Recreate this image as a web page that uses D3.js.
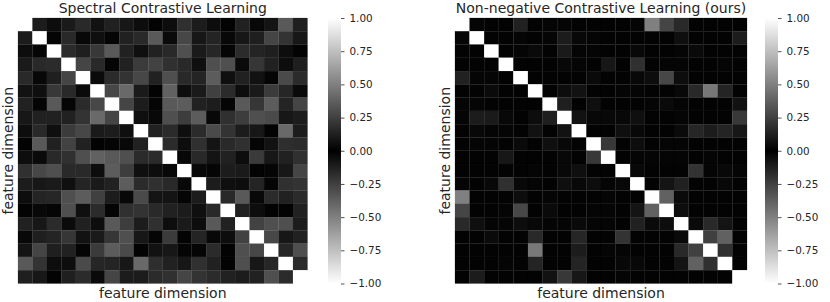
<!DOCTYPE html>
<html>
<head>
<meta charset="UTF-8">
<script src="https://d3js.org/d3.v7.min.js"></script>
<style>
  body { margin: 0; padding: 0; background: #fff; }
  svg { display: block; font-family: "DejaVu Sans", sans-serif; }
</style>
</head>
<body>
<svg id="chart" width="830" height="302"></svg>
<script>
// feature-correlation matrices (20 x 20)
const dims = d3.range(20);

const spectral = [
  [1,.11,.05,.10,.16,.07,.13,.09,.05,.01,.05,.19,.11,.05,.01,.13,.03,.08,.35,.12],
  [.11,1,.02,.16,.03,.06,.02,.13,.16,.35,.04,.28,.09,.14,.03,.09,.12,.27,.20,.09],
  [.05,.02,1,.17,.12,.22,.35,.13,.06,.13,.16,.31,.10,.15,.02,.17,.14,.12,.05,.01],
  [.10,.16,.17,1,.27,.16,.02,.13,.23,.26,.19,.16,.06,.31,.31,.04,.21,.13,.05,.12],
  [.16,.03,.12,.27,1,.04,.17,.20,.28,.13,.31,.16,.14,.36,.06,.13,.07,.02,.29,.17],
  [.07,.06,.22,.16,.04,1,.28,.41,.10,.01,.38,.05,.10,.25,.17,.05,.10,.23,.15,.04],
  [.13,.02,.35,.02,.17,.28,1,.27,.11,.02,.35,.36,.13,.11,.02,.35,.21,.36,.14,.27],
  [.09,.13,.13,.13,.20,.41,.27,1,.06,.03,.31,.24,.36,.03,.19,.24,.31,.29,.09,.11],
  [.05,.16,.06,.23,.28,.10,.11,.06,1,.13,.17,.06,.17,.29,.20,.11,.09,.01,.41,.11],
  [.01,.35,.13,.26,.13,.01,.02,.03,.13,1,.17,.05,.19,.08,.16,.19,.02,.07,.18,.17],
  [.05,.04,.16,.19,.31,.38,.35,.31,.17,.17,1,.03,.16,.08,.13,.05,.23,.09,.13,.19],
  [.19,.28,.31,.16,.16,.05,.36,.24,.06,.05,.03,1,.03,.02,.11,.10,.01,.02,.09,.27],
  [.11,.09,.10,.06,.14,.10,.13,.36,.17,.19,.16,.03,1,.11,.06,.05,.14,.02,.19,.20],
  [.05,.14,.15,.31,.36,.25,.11,.03,.29,.08,.08,.02,.11,1,.16,.35,.03,.17,.13,.17],
  [.01,.03,.02,.31,.06,.17,.02,.19,.20,.16,.13,.11,.06,.16,1,.13,.05,.01,.01,.13],
  [.13,.09,.17,.04,.13,.05,.35,.24,.11,.19,.05,.10,.05,.35,.13,1,.26,.31,.31,.11],
  [.03,.12,.14,.21,.07,.10,.21,.31,.09,.02,.23,.01,.14,.03,.05,.26,1,.28,.09,.13],
  [.08,.27,.12,.13,.02,.23,.36,.29,.01,.07,.09,.02,.02,.17,.01,.31,.28,1,.15,.31],
  [.35,.20,.05,.05,.29,.15,.14,.09,.41,.18,.13,.09,.19,.13,.01,.31,.09,.15,1,.17],
  [.12,.09,.01,.12,.17,.04,.27,.11,.11,.17,.19,.27,.20,.17,.13,.11,.13,.31,.17,1]
];

const nonneg = [
  [1,.02,.01,.01,.13,.01,.02,.02,.01,.01,.01,.01,.02,.50,.27,.16,.01,.01,.01,.01],
  [.02,1,.01,.01,.02,.01,.02,.11,.03,.02,.01,.01,.01,.01,.01,.06,.01,.01,.01,.11],
  [.01,.01,1,.01,.02,.04,.01,.10,.02,.02,.01,.01,.03,.01,.01,.02,.04,.01,.01,.01],
  [.01,.01,.01,1,.01,.01,.01,.03,.02,.01,.09,.01,.19,.01,.02,.02,.01,.01,.02,.01],
  [.13,.02,.02,.01,1,.01,.01,.01,.01,.04,.01,.01,.03,.05,.28,.05,.01,.01,.01,.01],
  [.01,.01,.04,.01,.01,1,.01,.05,.07,.01,.01,.02,.02,.01,.01,.03,.16,.47,.14,.01],
  [.02,.02,.01,.01,.01,.01,1,.12,.01,.06,.01,.01,.01,.02,.04,.02,.01,.01,.01,.07],
  [.02,.11,.10,.03,.01,.05,.12,1,.07,.03,.03,.03,.06,.01,.01,.02,.01,.01,.01,.22],
  [.01,.03,.02,.02,.01,.07,.01,.07,1,.01,.01,.06,.03,.01,.01,.04,.15,.11,.14,.09],
  [.01,.02,.02,.01,.04,.01,.06,.03,.01,1,.22,.01,.05,.01,.02,.02,.01,.01,.01,.01],
  [.01,.01,.01,.09,.01,.01,.01,.03,.01,.22,1,.01,.02,.02,.02,.02,.01,.02,.01,.01],
  [.01,.01,.01,.01,.01,.02,.01,.03,.06,.01,.01,1,.03,.01,.01,.01,.20,.02,.03,.02],
  [.02,.01,.03,.19,.03,.02,.01,.06,.03,.05,.02,.03,1,.01,.08,.13,.01,.01,.03,.01],
  [.50,.01,.01,.01,.05,.01,.02,.01,.01,.01,.02,.01,.01,1,.38,.04,.01,.01,.01,.01],
  [.27,.01,.01,.02,.28,.01,.04,.01,.01,.02,.02,.01,.08,.38,1,.05,.01,.01,.01,.01],
  [.16,.06,.02,.02,.05,.03,.02,.02,.04,.02,.02,.01,.13,.04,.05,1,.04,.16,.08,.01],
  [.01,.01,.04,.01,.01,.16,.01,.01,.15,.01,.01,.20,.01,.01,.01,.04,1,.25,.38,.01],
  [.01,.01,.01,.01,.01,.47,.01,.01,.11,.01,.02,.02,.01,.01,.01,.16,.25,1,.19,.01],
  [.01,.01,.01,.02,.01,.14,.01,.01,.14,.01,.01,.03,.03,.01,.01,.08,.38,.19,1,.01],
  [.01,.11,.01,.01,.01,.01,.07,.22,.09,.01,.01,.02,.01,.01,.01,.01,.01,.01,.01,1]
];

const titles = ["Spectral Contrastive Learning", "Non-negative Contrastive Learning (ours)"];
const axisLabel = "feature dimension";
const cbTicks = [1, 0.75, 0.5, 0.25, 0, -0.25, -0.5, -0.75, -1];

// symmetric grey map: 0 -> black, |1| -> white
const color = v => { const g = Math.round(255 * Math.min(1, Math.abs(v))); return `rgb(${g},${g},${g})`; };

const svg = d3.select("#chart");
svg.append("rect").attr("width", 830).attr("height", 302).attr("fill", "#fff");

const yTop = 18, yBot = 283.5;
const panels = [
  { data: spectral, x0: 18, x1: 307.5, cb: 328 },
  { data: nonneg,   x0: 455, x1: 747, cb: 765 }
];

const defs = svg.append("defs");
const grad = defs.append("linearGradient").attr("id", "cbgrad")
  .attr("x1", 0).attr("y1", 1).attr("x2", 0).attr("y2", 0);
d3.range(-1, 1.0001, 0.05).forEach(v => {
  grad.append("stop").attr("offset", (v + 1) / 2).attr("stop-color", color(v));
});

panels.forEach((p, pi) => {
  const x = d3.scaleBand().domain(dims).range([p.x0, p.x1]);
  const y = d3.scaleBand().domain(dims).range([yTop, yBot]);
  const g = svg.append("g");

  const cells = [];
  p.data.forEach((row, i) => row.forEach((v, j) => cells.push({ i, j, v })));

  g.selectAll("rect.cell").data(cells).enter().append("rect")
    .attr("class", "cell")
    .attr("x", d => x(d.j))
    .attr("y", d => y(d.i))
    .attr("width", x.bandwidth())
    .attr("height", y.bandwidth())
    .attr("fill", d => color(d.v))
    .attr("stroke", d => color(d.v))
    .attr("stroke-width", 0.2);

  // titles and labels
  const cx = (p.x0 + p.x1) / 2;
  svg.append("text").attr("x", cx).attr("y", 12.5)
    .attr("text-anchor", "middle").attr("font-size", 14).attr("fill", "#262626")
    .text(titles[pi]);
  svg.append("text").attr("x", cx).attr("y", 298)
    .attr("text-anchor", "middle").attr("font-size", 14).attr("fill", "#262626")
    .text(axisLabel);
  svg.append("text")
    .attr("transform", `translate(${p.x0 - 5.5},${(yTop + yBot) / 2}) rotate(-90)`)
    .attr("text-anchor", "middle").attr("font-size", 14).attr("fill", "#262626")
    .text(axisLabel);

  // colorbar
  const cy = d3.scaleLinear().domain([-1, 1]).range([yBot, yTop]);
  svg.append("rect").attr("x", p.cb).attr("y", yTop).attr("width", 13)
    .attr("height", yBot - yTop).attr("fill", "url(#cbgrad)");
  const ax = svg.append("g").attr("transform", `translate(${p.cb + 13},0)`)
    .call(d3.axisRight(cy).tickValues(cbTicks).tickFormat(d3.format(".2f"))
      .tickSize(3.5).tickPadding(5));
  ax.select(".domain").remove();
  ax.selectAll("line").attr("stroke", "#262626").attr("stroke-width", 0.8);
  ax.selectAll("text").attr("font-size", 10.4).attr("fill", "#262626")
    .attr("font-family", "DejaVu Sans");
});
</script>
</body>
</html>
